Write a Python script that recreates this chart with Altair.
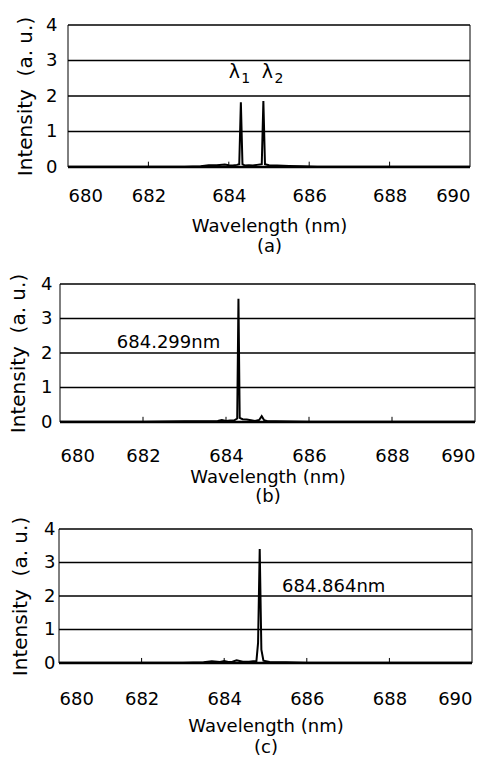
import altair as alt
import pandas as pd

FONT = "DejaVu Sans"

# Spectrum (a): two lines λ1, λ2
wl_a = [680.0, 681.0, 682.0, 682.9, 683.3, 683.5, 683.7, 683.9, 684.0, 684.1, 684.2,
        684.26, 684.30, 684.34, 684.4, 684.5, 684.6, 684.7, 684.82, 684.86, 684.90,
        685.0, 685.2, 685.5, 685.8, 686.2, 687.0, 688.0, 689.0, 690.0]
int_a = [0.01, 0.01, 0.01, 0.01, 0.02, 0.05, 0.05, 0.07, 0.05, 0.04, 0.06,
         0.08, 1.82, 0.08, 0.04, 0.05, 0.04, 0.06, 0.08, 1.86, 0.08,
         0.05, 0.04, 0.03, 0.02, 0.01, 0.01, 0.01, 0.01, 0.01]

# Spectrum (b): 684.299 nm
wl_b = [680.0, 681.0, 682.0, 683.0, 683.5, 683.8, 683.9, 684.0, 684.1, 684.2,
        684.27, 684.30, 684.33, 684.4, 684.5, 684.6, 684.7, 684.8, 684.86, 684.92,
        685.0, 685.2, 686.0, 687.0, 688.0, 689.0, 690.0]
int_b = [0.01, 0.01, 0.01, 0.02, 0.02, 0.03, 0.06, 0.03, 0.04, 0.05,
         0.10, 3.57, 0.12, 0.08, 0.07, 0.05, 0.03, 0.06, 0.17, 0.05,
         0.02, 0.02, 0.01, 0.01, 0.01, 0.01, 0.01]

# Spectrum (c): 684.864 nm
wl_c = [680.0, 681.0, 682.0, 683.0, 683.5, 683.7, 683.9, 684.0, 684.1, 684.2,
        684.3, 684.35, 684.45, 684.6, 684.7, 684.78, 684.82, 684.86, 684.90, 684.95,
        685.1, 685.5, 686.0, 687.0, 688.0, 689.0, 690.0]
int_c = [0.01, 0.01, 0.01, 0.01, 0.02, 0.05, 0.03, 0.06, 0.03, 0.04,
         0.08, 0.07, 0.04, 0.04, 0.05, 0.06, 0.60, 3.40, 0.40, 0.07,
         0.03, 0.02, 0.01, 0.01, 0.01, 0.01, 0.01]

x_min, x_max = 680, 690
y_min, y_max = 0, 4
x_tick_values = [680, 682, 684, 686, 688, 690]
inner_ticks = [682, 684, 686, 688]
y_tick_values = [0, 1, 2, 3, 4]
grid_values = [1, 2, 3, 4]

# Panel (a) labels: λ with separate subscripts
lam_text = ["λ", "λ"]
lam_x = [684.14, 684.96]
lam_y = [2.68, 2.68]
sub_text = ["1", "2"]
sub_x = [684.42, 685.25]
sub_y = [2.48, 2.48]

ann_b_text = ["684.299nm"]
ann_b_x = [683.86]
ann_b_y = [2.29]
ann_c_text = ["684.864nm"]
ann_c_x = [685.4]
ann_c_y = [2.27]

VIEW_W = 416


def text_layer(tx, ty, texts, talign, size):
    adf = pd.DataFrame({"wl": tx, "I": ty, "s": texts})
    return alt.Chart(adf).mark_text(font=FONT, fontSize=size, align=talign,
                                    baseline="middle", color="black").encode(text="s:N")


def panel(wl, inten, text_layers, letter, xrange, height,
          ylabel_pad, ytitle_pad, xlabel_pad, xtitle_pad, xline_h):
    xscale = alt.Scale(domain=[x_min, x_max], range=xrange, nice=False, zero=False)
    yscale = alt.Scale(domain=[y_min, y_max], nice=False)
    enc_x = alt.X("wl:Q", scale=xscale,
                  axis=alt.Axis(values=x_tick_values, format="d",
                                title=["Wavelength (nm)", f"({letter})"],
                                grid=False, ticks=False, domain=False,
                                labelPadding=xlabel_pad, titlePadding=xtitle_pad,
                                titleLineHeight=xline_h))
    enc_y = alt.Y("I:Q", scale=yscale,
                  axis=alt.Axis(values=y_tick_values,
                                title="Intensity \u00a0(a. u.)",
                                grid=False, domain=False, ticks=False,
                                labelPadding=ylabel_pad, titlePadding=ytitle_pad,
                                titleFontSize=20))

    df = pd.DataFrame({"wl": wl, "I": inten})
    line = alt.Chart(df).mark_line(color="black", strokeWidth=2)

    gdf = pd.DataFrame({"wl": [x_min] * len(grid_values),
                        "wl2": [x_max] * len(grid_values),
                        "I": grid_values})
    grid = alt.Chart(gdf).mark_rule(color="black", strokeWidth=1.6).encode(x2="wl2:Q")

    bdf = pd.DataFrame({"wl": [x_min, x_max], "I": [y_min, y_min], "I2": [y_max, y_max]})
    border = alt.Chart(bdf).mark_rule(color="black", strokeWidth=1).encode(y2="I2:Q")

    basedf = pd.DataFrame({"wl": [x_min], "wl2": [x_max], "I": [y_min]})
    base = alt.Chart(basedf).mark_rule(color="black", strokeWidth=2.5).encode(x2="wl2:Q")

    tdf = pd.DataFrame({"wl": inner_ticks, "I": [0] * len(inner_ticks),
                        "I2": [0.15] * len(inner_ticks)})
    ticks = alt.Chart(tdf).mark_rule(color="black", strokeWidth=1).encode(y2="I2:Q")

    return alt.layer(grid, border, base, ticks, line, *text_layers).encode(
        x=enc_x, y=enc_y
    ).properties(width=VIEW_W, height=height)


pa = panel(wl_a, int_a,
           [text_layer(lam_x, lam_y, lam_text, "center", 19),
            text_layer(sub_x, sub_y, sub_text, "center", 14)],
           "a", [9, 411], 142, 2, 10.5, 20, 12, 20)
pb = panel(wl_b, int_b, [text_layer(ann_b_x, ann_b_y, ann_b_text, "right", 18)],
           "b", [1, 416], 138, 7, 12.5, 25, 3, 19)
pc = panel(wl_c, int_c, [text_layer(ann_c_x, ann_c_y, ann_c_text, "left", 18)],
           "c", [0, 413], 134, 4, 13.5, 27, 9, 21)

chart = alt.vconcat(pa, alt.vconcat(pb, pc, spacing=11), spacing=18).properties(
    padding={"left": 8, "top": 16, "right": 0, "bottom": 0},
    background="white",
).configure_view(stroke=None).configure_axis(
    labelFont=FONT, titleFont=FONT, labelFontSize=18, titleFontSize=18,
    labelColor="black", titleColor="black", titleFontWeight="normal",
)

chart.save("out.html", embed_options={"renderer": "svg", "actions": False})
